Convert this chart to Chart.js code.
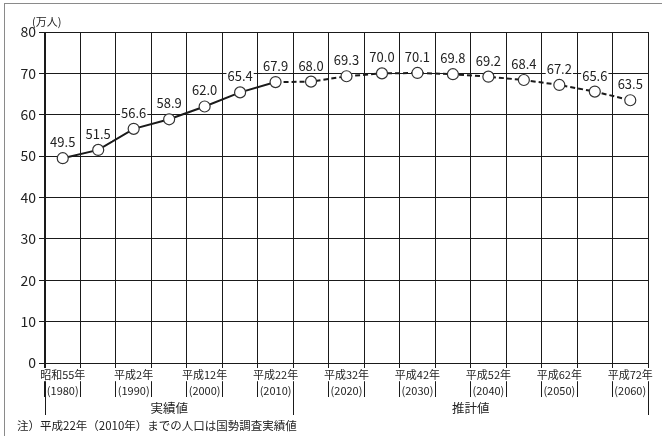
<!DOCTYPE html>
<html><head><meta charset="utf-8">
<script src="https://cdn.jsdelivr.net/npm/chart.js@4/dist/chart.umd.min.js"></script>
<style>html,body{margin:0;padding:0;background:#fff}#wrap{position:relative;width:662px;height:436px}</style>
</head><body><div id="wrap"><canvas id="c" width="662" height="436"></canvas></div>
<script>
// ---- data ----
const years = ['1980','1985','1990','1995','2000','2005','2010','2015','2020','2025','2030','2035','2040','2045','2050','2055','2060'];
const eraLabels = ['昭和55年','','平成2年','','平成12年','','平成22年','','平成32年','','平成42年','','平成52年','','平成62年','','平成72年'];
const yearLabels = ['(1980)','','(1990)','','(2000)','','(2010)','','(2020)','','(2030)','','(2040)','','(2050)','','(2060)'];
const population = [49.5,51.5,56.6,58.9,62.0,65.4,67.9,68.0,69.3,70.0,70.1,69.8,69.2,68.4,67.2,65.6,63.5];
const yMin = 0, yMax = 80, yStep = 10;
const unitLabel = '(万人)';
const sectionLabels = ['実績値','推計値'];
const sectionBounds = [0, 7, 17]; // category boundaries: start, end of actual, end
const noteText = '注）平成22年（2010年）までの人口は国勢調査実績値';
const actualLastIndex = 6;

const FONT = "'Noto Sans CJK JP', 'Noto Sans', sans-serif";
const GRID = '#1a1a1a';

function boundaryX(scale, k) {
  const a = scale.getPixelForValue(0), b = scale.getPixelForValue(1);
  const step = b - a;
  return a - step / 2 + step * k;
}

const decorPlugin = {
  id: 'decor',
  beforeDraw(chart) {
    const ctx = chart.ctx, x = chart.scales.x;
    ctx.save();
    ctx.strokeStyle = '#8a8a8a'; ctx.lineWidth = 1;
    ctx.strokeRect(4.5, 3.5, 700, 500);
    ctx.strokeStyle = GRID; ctx.lineWidth = 1;
    sectionBounds.forEach(k => {
      const px = Math.round(boundaryX(x, k)) + 0.5;
      ctx.beginPath(); ctx.moveTo(px, chart.chartArea.bottom); ctx.lineTo(px, 415); ctx.stroke();
    });
    ctx.restore();
  },
  afterDatasetsDraw(chart) {
    const ctx = chart.ctx;
    const meta = chart.getDatasetMeta(0);
    ctx.save();
    ctx.font = '13px ' + FONT;
    ctx.textAlign = 'center'; ctx.textBaseline = 'middle';
    meta.data.forEach((pt, i) => {
      const txt = population[i].toFixed(1);
      const w = ctx.measureText(txt).width;
      const cy = pt.y - 16;
      ctx.fillStyle = '#fff';
      ctx.fillRect(pt.x - w / 2 - 1, cy - 7, w + 2, 14);
      ctx.fillStyle = '#222';
      ctx.fillText(txt, pt.x, cy);
    });
    ctx.restore();
  },
  afterDraw(chart) {
    const ctx = chart.ctx, x = chart.scales.x;
    ctx.save();
    ctx.fillStyle = '#222';
    ctx.textBaseline = 'middle';
    ctx.font = '11px ' + FONT; ctx.textAlign = 'left';
    ctx.fillText(unitLabel, 32, 22);
    ctx.font = '12.5px ' + FONT; ctx.textAlign = 'center';
    for (let s = 0; s < sectionLabels.length; s++) {
      const cx = (boundaryX(x, sectionBounds[s]) + boundaryX(x, sectionBounds[s + 1])) / 2;
      const w = ctx.measureText(sectionLabels[s]).width;
      ctx.fillStyle = '#fff'; ctx.fillRect(cx - w / 2 - 2, 400, w + 4, 15);
      ctx.fillStyle = '#222'; ctx.fillText(sectionLabels[s], cx, 408);
    }
    ctx.font = '11.5px ' + FONT; ctx.textAlign = 'left';
    ctx.fillText(noteText, 17, 426);
    ctx.restore();
  }
};

new Chart(document.getElementById('c'), {
  type: 'line',
  data: {
    labels: years,
    datasets: [{
      data: population,
      borderColor: '#1a1a1a',
      borderWidth: 2,
      pointRadius: 5.5,
      pointBackgroundColor: '#fff',
      pointBorderColor: '#333',
      pointBorderWidth: 1.2,
      tension: 0,
      segment: {
        borderDash: c => c.p0DataIndex >= actualLastIndex ? [5, 3] : undefined
      }
    }]
  },
  options: {
    responsive: false,
    devicePixelRatio: 1,
    animation: false,
    layout: { padding: { top: 32, right: 14, left: 0, bottom: 0 } },
    plugins: { legend: { display: false }, tooltip: { enabled: false } },
    scales: {
      x: {
        type: 'category',
        position: 'bottom',
        offset: true,
        grid: { offset: true, color: GRID, tickColor: GRID, tickLength: 34, lineWidth: 1 },
        border: { color: GRID },
        ticks: {
          autoSkip: false, maxRotation: 0, minRotation: 0,
          padding: -29,
          color: '#222',
          font: { size: 11, family: FONT },
          callback: (v, i) => eraLabels[i],
          showLabelBackdrop: true,
          backdropColor: '#fff',
          backdropPadding: { top: 0, bottom: 0, left: 0, right: 0 }
        },
        afterFit: s => { s.height = 19; }
      },
      x2: {
        type: 'category',
        position: 'bottom',
        offset: true,
        grid: { display: false, offset: true },
        border: { display: false },
        ticks: {
          autoSkip: false, maxRotation: 0, minRotation: 0,
          padding: -6,
          color: '#222',
          font: { size: 11, family: FONT },
          callback: (v, i) => yearLabels[i],
          showLabelBackdrop: true,
          backdropColor: '#fff',
          backdropPadding: { top: 0, bottom: 0, left: 0, right: 0 }
        },
        afterFit: s => { s.height = 54; }
      },
      y: {
        min: yMin, max: yMax,
        grid: { color: GRID, tickColor: GRID, tickLength: 6, lineWidth: 1 },
        border: { color: GRID },
        ticks: {
          stepSize: yStep, padding: 3, color: '#222',
          font: { size: 14, family: FONT }
        },
        afterFit: s => { s.width = 45; }
      }
    }
  },
  plugins: [decorPlugin]
});
</script>
</body></html>
